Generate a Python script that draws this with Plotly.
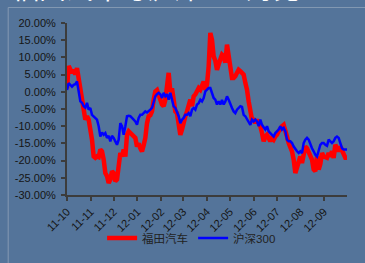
import pandas as pd
import plotly.graph_objects as go

# --- data (percent change) ---
futian = [
    1.0, 7.5, 6.5, 5.5, 6.4, 5.0, 6.9, 4.0, -0.3, -3.2, -5.2, -8.1, -7.1, -8.1, -11.0, -13.9,
    -18.8, -19.2, -18.8, -19.0, -16.8, -17.3, -19.7, -23.6, -24.5, -26.5, -25.5, -23.1, -23.6,
    -26.0, -25.5, -21.7, -17.8, -18.8, -16.8, -18.8, -12.5, -11.5,
    -12.0, -12.5, -13.0, -13.4, -15.9, -15.0, -16.4, -17.3, -15.5, -13.4, -9.1, -7.1, -6.8,
    -5.7, -2.3, 0.1, 0.5, -1.0, -1.9, -3.7, -4.2, -2.3, 1.6, 5.5, 0.1, 1.0, -2.3, -5.7, -6.2,
    -9.6, -12.5, -11.0, -8.1, -7.1, -5.7, -3.3, -2.3, -4.2, -1.3, -0.8, 0.6, 1.1, 0.6, 2.1, 3.0,
    0.6, 2.1, 7.4, 17.1, 15.1, 10.3, 9.0, 6.4, 8.0, 9.3, 10.8, 10.3, 8.5, 13.7, 11.0, 7.4, 4.0,
    4.0, 4.5, 5.5, 6.4, 6.0, 5.5, 5.0, 2.6, 0.6, -2.8, -6.2, -8.1, -8.1, -9.1, -8.1, -9.1,
    -10.0, -12.0, -14.4, -13.0, -12.5, -13.4, -14.4, -13.4, -13.9,
    -13.0, -12.5, -11.5, -10.5, -10.0, -9.6, -11.0, -13.0, -14.9, -15.9, -17.3, -19.7, -23.6,
    -22.0, -20.0, -18.8, -20.7, -17.8, -15.9, -16.4, -17.3, -18.8, -19.7, -22.6, -23.1, -18.8,
    -22.6, -21.0, -17.8, -18.8, -19.2, -19.2, -17.8, -18.8, -17.3, -19.2, -15.4, -16.8, -17.3,
    -15.9, -17.3, -18.8, -19.2, -19.2,
]
hs300 = [
    0.5, 2.5, 2.0, 1.5, 2.0, 2.2, 3.0, 0.0, -2.8, -3.2, -4.2, -4.6, -3.2, -5.2, -4.7, -6.7,
    -7.1, -7.6, -8.1, -10.0, -13.0, -11.8, -12.5, -12.0, -13.4, -12.8, -14.4, -12.8, -13.4,
    -14.4, -15.4, -13.9, -9.1, -10.0, -12.5, -10.0, -7.1, -7.0,
    -7.1, -7.6, -8.1, -8.6, -9.6, -7.6, -6.7, -6.7, -6.2, -5.7, -6.0, -5.7, -5.2, -4.7, -3.3,
    -1.3, -0.7, -0.3, -0.7, -1.8, -0.3, -1.3, -0.7, -2.3, -0.3, -2.8, -4.2, -4.7, -5.7, -7.1,
    -9.1, -8.1, -7.6, -6.7, -6.7, -6.2, -7.1, -5.2, -4.7, -5.2, -3.7, -3.3, -2.3, -2.8, -1.8,
    0.1, 0.6, 1.1, 1.1, -0.3, -1.8, -2.3, -3.7, -2.8, -3.7, -2.4, -3.7, -2.8, -1.3, -2.3, -3.7,
    -4.7, -5.7, -6.2, -5.2, -4.7, -4.2, -4.4, -6.7, -7.1, -8.1, -9.1, -9.6, -8.1, -8.6, -8.1,
    -8.6, -10.0, -8.1, -9.6, -10.5, -11.0, -10.0, -11.5, -12.0, -12.5, -13.0,
    -12.0, -11.5, -11.0, -10.0, -11.0, -10.5, -11.5, -13.9, -14.4, -14.4, -14.9, -15.9, -16.8,
    -17.3, -17.8, -17.3, -17.8, -14.9, -13.9, -13.4, -13.9, -15.4, -16.4, -17.3, -18.3, -18.8,
    -17.3, -15.4, -14.9, -14.9, -15.4, -15.7, -13.9, -14.4, -14.9, -14.4, -13.4, -13.0, -13.4,
    -14.9, -16.4, -16.8, -16.8, -16.8,
]
dates = pd.date_range("2011-10-01", "2012-10-01", periods=len(futian))

month_ticks = ["2011-10-01", "2011-11-01", "2011-12-01", "2012-01-01", "2012-02-01",
               "2012-03-01", "2012-04-01", "2012-05-01", "2012-06-01", "2012-07-01",
               "2012-08-01", "2012-09-01"]
month_labels = ["11-10", "11-11", "11-12", "12-01", "12-02", "12-03",
                "12-04", "12-05", "12-06", "12-07", "12-08", "12-09"]
y_ticks = [20, 15, 10, 5, 0, -5, -10, -15, -20, -25, -30]
y_labels = ["20.00%", "15.00%", "10.00%", "5.00%", "0.00%", "-5.00%",
            "-10.00%", "-15.00%", "-20.00%", "-25.00%", "-30.00%"]
title_text = "福田汽车与沪深300对比"

BG = "#54749A"
AXIS = "#3c3c3c"
TXT = "#141414"

fig = go.Figure()
fig.add_trace(go.Scatter(x=dates, y=futian, name="福田汽车", mode="lines",
                         line=dict(color="#FF0000", width=4.5)))
fig.add_trace(go.Scatter(x=dates, y=hs300, name="沪深300", mode="lines",
                         line=dict(color="#0000FF", width=2.5)))

fig.update_layout(
    width=365, height=263,
    margin=dict(l=67, r=18, t=23, b=68, autoexpand=False),
    paper_bgcolor=BG, plot_bgcolor=BG,
    font=dict(family="Liberation Sans, Arial, Noto Sans CJK SC", size=11, color=TXT),
    showlegend=True,
    legend=dict(orientation="h", x=0.445, xanchor="center", y=-0.25, yanchor="middle",
                bgcolor="rgba(0,0,0,0)", font=dict(size=11.5, color="#222222",
                family="Liberation Sans, Noto Sans CJK SC"),
                itemwidth=30, tracegroupgap=0),
    xaxis=dict(type="date", range=["2011-10-01", "2012-10-01"], automargin=False,
               tickvals=month_ticks, ticktext=month_labels, tickangle=-45,
               showgrid=False, zeroline=False, showline=True, linecolor=AXIS, linewidth=2,
               ticks="outside", ticklen=4, tickcolor=AXIS, tickwidth=1.5),
    yaxis=dict(range=[-30, 20], tickvals=y_ticks, ticktext=y_labels, automargin=False,
               showgrid=False, zeroline=False, showline=True, linecolor=AXIS, linewidth=2,
               ticks="outside", ticklen=4, tickcolor=AXIS, tickwidth=1.5,
               ticklabelstandoff=3),
    shapes=[dict(type="rect", xref="paper", yref="paper", x0=-0.21, x1=1.2, y0=-0.8, y1=1.09,
                 line=dict(color="#8499B2", width=1), fillcolor="rgba(0,0,0,0)", layer="below")],
    annotations=[dict(text=title_text, xref="paper", yref="paper",
                      x=-0.205, xanchor="left", y=1.083, yanchor="bottom", showarrow=False,
                      font=dict(size=27, color="white",
                                family="Noto Sans CJK SC, Liberation Sans"))],
)

fig.write_html("out.html", config={"displayModeBar": False},
               post_script="document.body.style.margin='0';document.body.style.background='#54749A';")
